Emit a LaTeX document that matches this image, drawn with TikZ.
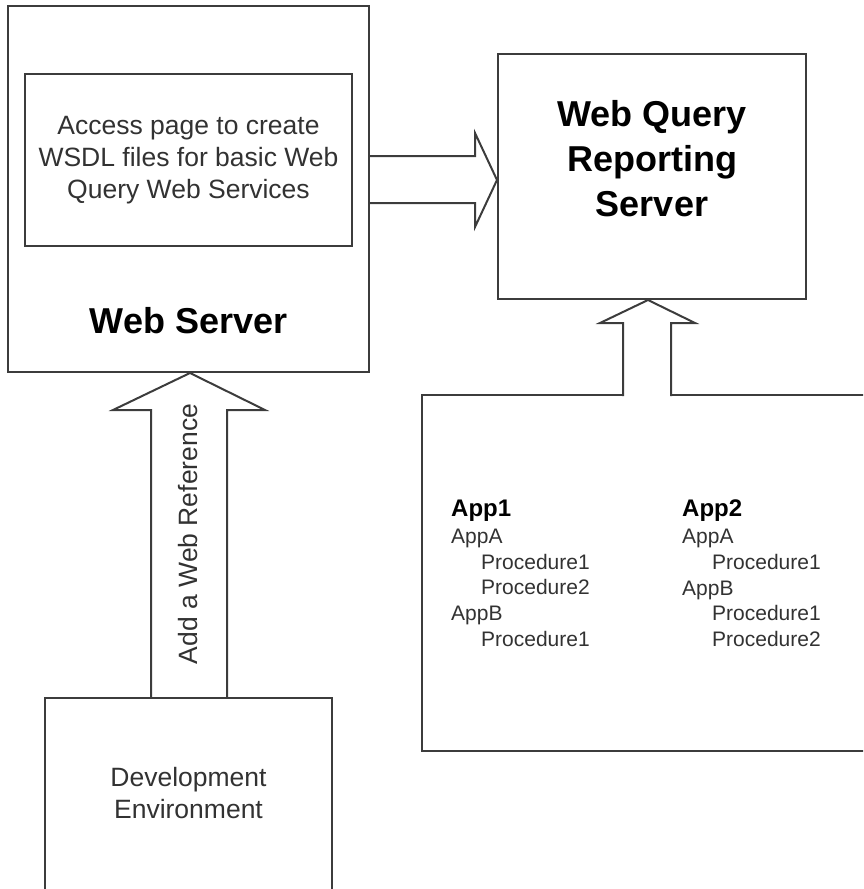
\documentclass[tikz,border=0pt]{standalone}
\usepackage{fontspec}
\setmainfont{Liberation Sans}
\usetikzlibrary{calc}
\definecolor{linegray}{RGB}{60,60,60}
\definecolor{textgray}{RGB}{50,50,50}
\tikzstyle{srvbox}=[rectangle, draw=linegray, line width=2pt, inner sep=0pt]
\tikzstyle{blockarrow}=[draw=linegray, line width=2pt, line join=miter, fill=white]
\tikzstyle{bigtext}=[font=\fontsize{36}{45}\selectfont\bfseries, align=center, inner sep=0pt]
\tikzstyle{plaintext}=[font=\fontsize{26.5}{32}\selectfont, text=textgray, align=center, inner sep=0pt]
\tikzstyle{applist}=[font=\fontsize{21}{25.7}\selectfont, text=textgray, align=left, inner sep=0pt, anchor=north west]

\begin{document}
\begin{tikzpicture}[x=1pt,y=-1pt]
  \useasboundingbox (0,0) rectangle (863,889);
  \clip (0,0) rectangle (863,889);
  % boxes
  \node[srvbox, minimum width=361pt, minimum height=366pt] (ws) at (188.5,189) {};
  \node[srvbox, minimum width=327pt, minimum height=172pt] (acc) at (188.5,160) {};
  \node[plaintext] (acctxt) at (acc.center) {Access page to create\\WSDL files for basic Web\\Query Web Services};
  \node[bigtext] (wstxt) at (188.5,321) {Web Server};
  \node[srvbox, minimum width=308pt, minimum height=245pt] (wqrs) at (652,176.5) {};
  \node[bigtext] (wqrstxt) at (652,159) {Web Query\\Reporting\\Server};
  \node[srvbox, minimum width=287pt, minimum height=202pt] (dev) at (188.5,799) {};
  \node[plaintext] (devtxt) at (188.5,793) {Development\\Environment};
  \node[srvbox, minimum width=478pt, minimum height=356pt] (apps) at (661,573) {};
  \node[applist] (app1) at (451,499.5) {{\fontsize{24}{27}\selectfont\bfseries\color{black}App1}\\[1.6pt]
    AppA\\ \hspace*{30pt}Procedure1\\ \hspace*{30pt}Procedure2\\ AppB\\ \hspace*{30pt}Procedure1};
  \node[applist] (app2) at (682,499.5) {{\fontsize{24}{27}\selectfont\bfseries\color{black}App2}\\[1.6pt]
    AppA\\ \hspace*{30pt}Procedure1\\ AppB\\ \hspace*{30pt}Procedure1\\ \hspace*{30pt}Procedure2};
  % block arrows
  \draw[blockarrow, fill=none] (ws.east |- 0,156) -- (475,156) -- (475,133) -- (wqrs.west |- 0,180)
    -- (475,227) -- (475,203) -- (ws.east |- 0,203);
  \draw[blockarrow, fill=none] (151,0 |- dev.north) -- (151,410) -- (113,410) -- (ws.south -| 190,0)
    -- (265,410) -- (227,410) -- (227,0 |- dev.north);
  \filldraw[blockarrow] ($(623,0 |- apps.north)+(0,2)$) -- (623,323) -- (600,323) -- (wqrs.south -| 648,0)
    -- (695,323) -- (671,323) -- ($(671,0 |- apps.north)+(0,2)$);
  \node[plaintext, rotate=90] (addref) at (188.5,534) {Add a Web Reference};
\end{tikzpicture}
\end{document}
